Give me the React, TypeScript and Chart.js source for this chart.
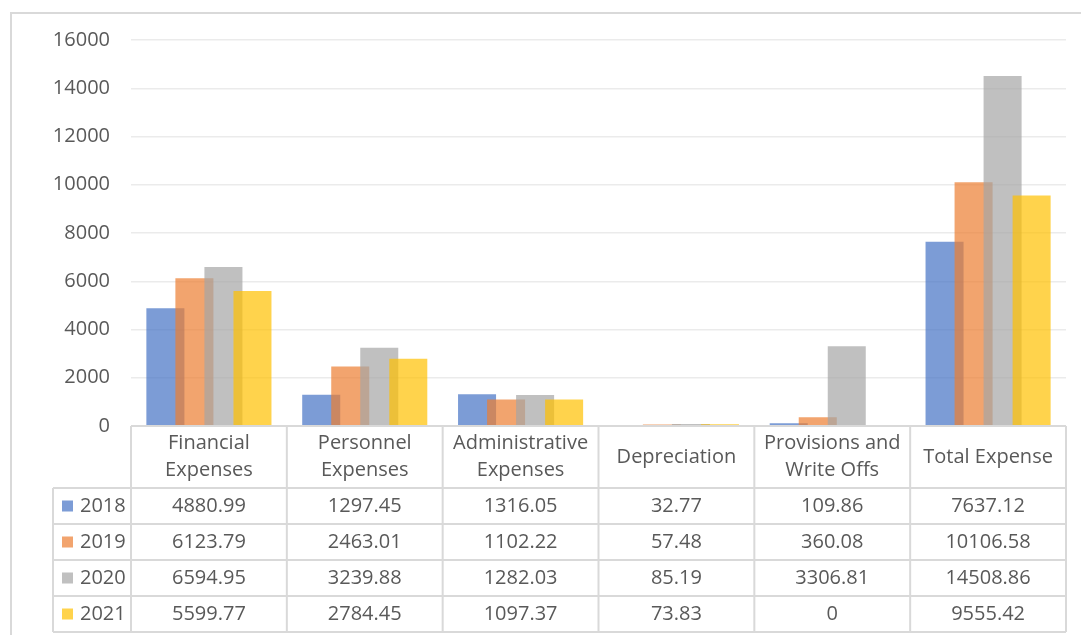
import React, { useEffect, useRef } from "react";
import { Chart, registerables } from "chart.js";

Chart.register(...registerables);

const categories: string[][] = [
  ["Financial", "Expenses"],
  ["Personnel", "Expenses"],
  ["Administrative", "Expenses"],
  ["Depreciation"],
  ["Provisions and", "Write Offs"],
  ["Total Expense"],
];
const seriesNames = ["2018", "2019", "2020", "2021"];
const values2018 = [4880.99, 1297.45, 1316.05, 32.77, 109.86, 7637.12];
const values2019 = [6123.79, 2463.01, 1102.22, 57.48, 360.08, 10106.58];
const values2020 = [6594.95, 3239.88, 1282.03, 85.19, 3306.81, 14508.86];
const values2021 = [5599.77, 2784.45, 1097.37, 73.83, 0, 9555.42];
const seriesValues = [values2018, values2019, values2020, values2021];
const yTicks = [0, 2000, 4000, 6000, 8000, 10000, 12000, 14000, 16000];

const colors = [
  "rgba(68,114,196,0.7)",
  "rgba(237,125,49,0.7)",
  "rgba(165,165,165,0.7)",
  "rgba(255,192,0,0.7)",
];

const FONT = "'Open Sans', 'Liberation Sans', sans-serif";
const TEXT = "#595959";
const LINE = "#d9d9d9";

// draw later series on top of earlier ones (as in the reference)
const drawOrderPlugin = {
  id: "drawOrder",
  beforeDatasetsDraw(chart: any) {
    const metas = chart.getSortedVisibleDatasetMetas();
    for (let i = 0; i < metas.length; i++) {
      chart._drawDataset(metas[i]);
    }
    return false;
  },
};

const tablePlugin = {
  id: "dataTable",
  beforeDraw(chart: any) {
    const ctx = chart.ctx;
    ctx.save();
    ctx.strokeStyle = LINE;
    ctx.lineWidth = 2;
    ctx.beginPath();
    ctx.moveTo(11, chart.height);
    ctx.lineTo(11, 13);
    ctx.lineTo(chart.width, 13);
    ctx.stroke();
    ctx.restore();
  },
  afterDraw(chart: any) {
    const ctx = chart.ctx;
    const x = chart.scales.x;
    const area = chart.chartArea;
    const top = area.bottom;
    const headerH = 62;
    const rowH = 36;
    const legendLeft = 53;
    const n = categories.length;
    const half = (x.getPixelForTick(1) - x.getPixelForTick(0)) / 2;
    const bounds: number[] = [];
    for (let i = 0; i < n; i++) bounds.push(x.getPixelForTick(i) - half);
    bounds.push(x.getPixelForTick(n - 1) + half);
    const bottom = top + headerH + rowH * seriesNames.length;

    ctx.save();
    ctx.strokeStyle = LINE;
    ctx.lineWidth = 2;
    ctx.beginPath();
    ctx.moveTo(bounds[0], top);
    ctx.lineTo(bounds[n], top);
    for (let i = 0; i <= n; i++) {
      ctx.moveTo(bounds[i], top);
      ctx.lineTo(bounds[i], bottom);
    }
    ctx.moveTo(legendLeft, top + headerH);
    ctx.lineTo(legendLeft, bottom);
    for (let r = 0; r <= seriesNames.length; r++) {
      const y = top + headerH + r * rowH;
      ctx.moveTo(legendLeft, y);
      ctx.lineTo(bounds[n], y);
    }
    ctx.stroke();

    ctx.fillStyle = TEXT;
    ctx.font = `20px ${FONT}`;
    ctx.textAlign = "center";
    ctx.textBaseline = "middle";
    const hc = top + headerH / 2;
    for (let i = 0; i < n; i++) {
      const cx = x.getPixelForTick(i);
      const lines = categories[i];
      const lh = 27;
      lines.forEach((t, k) => {
        ctx.fillText(t, cx, hc + (k - (lines.length - 1) / 2) * lh);
      });
    }
    for (let r = 0; r < seriesNames.length; r++) {
      const cy = top + headerH + r * rowH + rowH / 2;
      ctx.fillStyle = colors[r];
      ctx.fillRect(62, cy - 5.5, 11, 11);
      ctx.fillStyle = TEXT;
      ctx.textAlign = "left";
      ctx.fillText(seriesNames[r], 80, cy);
      ctx.textAlign = "center";
      for (let i = 0; i < n; i++) {
        ctx.fillText(String(seriesValues[r][i]), x.getPixelForTick(i), cy);
      }
    }
    ctx.restore();
  },
};

export default function App() {
  const ref = useRef<HTMLCanvasElement | null>(null);
  useEffect(() => {
    document.body.style.margin = "0";
    if (!ref.current) return;
    const chart = new Chart(ref.current, {
      type: "bar",
      data: {
        labels: categories.map((c) => c.join(" ")),
        datasets: seriesNames.map((name, i) => ({
          label: name,
          data: seriesValues[i],
          backgroundColor: colors[i],
          borderWidth: 0,
          categoryPercentage: 0.745,
          barPercentage: 1.31,
        })),
      },
      options: {
        responsive: false,
        animation: false,
        devicePixelRatio: 1,
        layout: { padding: { left: 0, top: 40, right: 15, bottom: 209 } },
        plugins: { legend: { display: false }, tooltip: { enabled: false } },
        scales: {
          x: { display: false },
          y: {
            min: 0,
            max: 16000,
            afterBuildTicks: (s: any) => {
              s.ticks = yTicks.map((v) => ({ value: v }));
            },
            afterFit: (s: any) => {
              s.width = 131;
            },
            border: { display: false },
            grid: { color: "#ebebeb", lineWidth: 1.5, drawTicks: false },
            ticks: {
              padding: 21,
              color: TEXT,
              font: { family: FONT, size: 20 },
              callback: (v: any) => String(v),
            },
          },
        },
      },
      plugins: [drawOrderPlugin, tablePlugin],
    });
    return () => chart.destroy();
  }, []);
  return (
    <div style={{ position: "absolute", left: 0, top: 0, width: 1081, height: 635, background: "#fff" }}>
      <canvas ref={ref} width={1081} height={635} />
    </div>
  );
}
